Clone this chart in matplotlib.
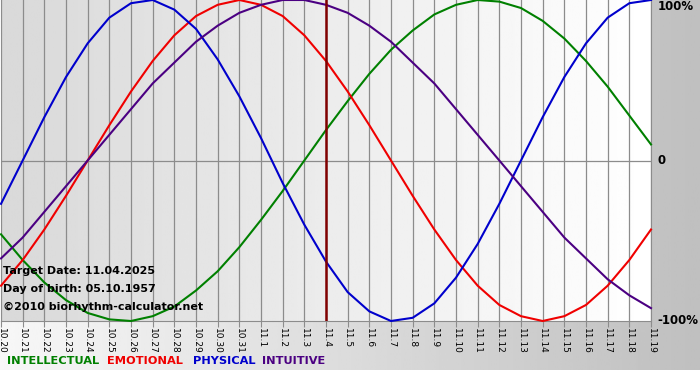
import numpy as np
import matplotlib
matplotlib.use('Agg')
import matplotlib.pyplot as plt

# Gün etiketleri (10.20 -> 11.19)
day_labels = ['10.20', '10.21', '10.22', '10.23', '10.24', '10.25', '10.26', '10.27',
              '10.28', '10.29', '10.30', '10.31', '11.1', '11.2', '11.3', '11.4',
              '11.5', '11.6', '11.7', '11.8', '11.9', '11.10', '11.11', '11.12',
              '11.13', '11.14', '11.15', '11.16', '11.17', '11.18', '11.19']

# Her gün için değerler (-1 .. 1)
intellectual = [-0.46, -0.62, -0.76, -0.87, -0.95, -0.99, -1.00, -0.97, -0.91, -0.81,
                -0.69, -0.54, -0.37, -0.19, 0.00, 0.19, 0.37, 0.54, 0.69, 0.81,
                0.91, 0.97, 1.00, 0.99, 0.95, 0.87, 0.76, 0.62, 0.46, 0.28, 0.10]
emotional = [-0.78, -0.62, -0.43, -0.22, 0.00, 0.22, 0.43, 0.62, 0.78, 0.90,
             0.97, 1.00, 0.97, 0.90, 0.78, 0.62, 0.43, 0.22, 0.00, -0.22,
             -0.43, -0.62, -0.78, -0.90, -0.97, -1.00, -0.97, -0.90, -0.78, -0.62, -0.43]
physical = [-0.27, 0.00, 0.27, 0.52, 0.73, 0.89, 0.98, 1.00, 0.94, 0.82,
            0.63, 0.40, 0.14, -0.14, -0.40, -0.63, -0.82, -0.94, -1.00, -0.98,
            -0.89, -0.73, -0.52, -0.27, 0.00, 0.27, 0.52, 0.73, 0.89, 0.98, 1.00]
intuitive = [-0.61, -0.48, -0.32, -0.16, 0.00, 0.16, 0.32, 0.48, 0.61, 0.74,
             0.84, 0.92, 0.97, 1.00, 1.00, 0.97, 0.92, 0.84, 0.74, 0.61,
             0.48, 0.32, 0.16, 0.00, -0.16, -0.32, -0.48, -0.61, -0.74, -0.84, -0.92]

target_label = '11.4'
info_lines = ['Target Date: 11.04.2025', 'Day of birth: 05.10.1957',
              '\u00a92010 biorhythm-calculator.net']
y_labels = ['100%', '0', '-100%']

series = [
    ('INTELLECTUAL', intellectual, '#008000'),
    ('EMOTIONAL', emotional, '#f00000'),
    ('PHYSICAL', physical, '#0000cc'),
    ('INTUITIVE', intuitive, '#4b0082'),
]

W, H = 700, 380
fig = plt.figure(figsize=(W / 100, H / 100), dpi=100)
fig.patch.set_facecolor('white')

# Dış arka plan: soldan sağa beyazdan griye
bg = fig.add_axes([0, 10 / H, 1, 370 / H])
bg.axis('off')
grad = np.linspace(0.97, 0.75, 256).reshape(1, -1)
bg.imshow(grad, cmap='gray', vmin=0, vmax=1, aspect='auto', extent=(0, 1, 0, 1))

# Grafik alanı
ax = fig.add_axes([1 / W, 59 / H, 650 / W, 321 / H])
x = np.arange(len(day_labels))
ax.set_xlim(0, len(day_labels) - 1)
ax.set_ylim(-1.0, 1.0)

inner = np.linspace(0.85, 1.0, 256).reshape(1, -1)
ax.imshow(inner, cmap='gray', vmin=0, vmax=1, aspect='auto',
          extent=(0, len(day_labels) - 1, -1, 1), zorder=0)

for xi in x:
    ax.axvline(xi, color='#8c8c8c', lw=0.9, zorder=1)
ax.axhline(0, color='#8c8c8c', lw=0.9, zorder=1)

for name, vals, color in series:
    ax.plot(x, vals, color=color, lw=1.5, zorder=3, clip_on=False)

# Hedef tarih çizgisi
ax.axvline(day_labels.index(target_label), color='#800000', lw=1.8, zorder=4)

for side in ['top', 'left']:
    ax.spines[side].set_visible(False)
for side in ['bottom', 'right']:
    ax.spines[side].set_color('#8c8c8c')

ax.set_xticks(x)
ax.set_xticklabels(day_labels, rotation=-90, fontsize=6.5, va='top', ha='center')
ax.set_yticks([])
ax.tick_params(axis='x', direction='out', length=4, color='#8c8c8c', pad=1)

# Sağdaki yüzde etiketleri
for yv, lab in zip([1, 0, -1], y_labels):
    ax.text(len(day_labels) - 1 + 0.3, yv, lab, fontsize=8.5, fontweight='bold',
            ha='left', va='center', clip_on=False,
            transform=ax.transData)
ax.texts[0].set_va('top')

# Bilgi yazıları
for i, line in enumerate(info_lines):
    fig.text(3 / W, 1 - (271 + i * 18) / H, line, fontsize=8, fontweight='bold',
             ha='left', va='center')

# Alt açıklama
legend_x = [7, 107, 193, 262]
for (name, vals, color), lx in zip(series, legend_x):
    fig.text(lx / W, 1 - 361 / H, name, color=color, fontsize=8.2,
             fontweight='bold', ha='left', va='center')

fig.savefig('out.png', dpi=100)
